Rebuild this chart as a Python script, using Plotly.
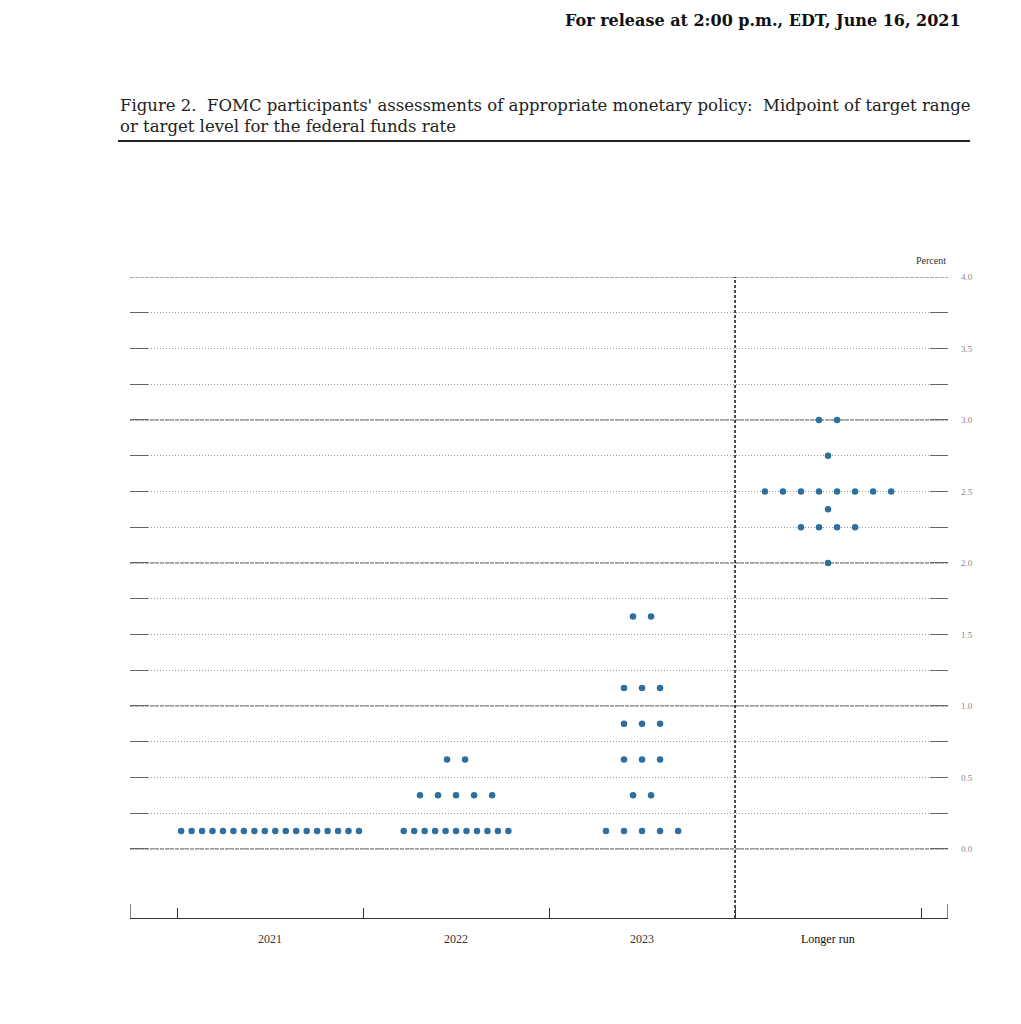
import plotly.graph_objects as go

# projections: (rate, count) per period
periods = ["2021", "2022", "2023", "Longer run"]
dots_2021 = [(0.125, 18)]
dots_2022 = [(0.125, 11), (0.375, 5), (0.625, 2)]
dots_2023 = [(0.125, 5), (0.375, 2), (0.625, 3), (0.875, 3), (1.125, 3), (1.625, 2)]
dots_lr = [(2.0, 1), (2.25, 4), (2.375, 1), (2.5, 8), (2.75, 1), (3.0, 2)]
all_dots = [dots_2021, dots_2022, dots_2023, dots_lr]
ytick_vals = [i * 0.25 for i in range(17)]

fig = go.Figure()
xs, ys = [], []
for i, rows in enumerate(all_dots):
    center = i + 0.5
    for rate, n in rows:
        step = 0.9 / 16 if n > 9 else 0.097
        for k in range(n):
            xs.append(center + (k - (n - 1) / 2) * step)
            ys.append(rate)
fig.add_trace(go.Scatter(x=xs, y=ys, mode="markers",
                         marker=dict(color="#2f6f9f", size=6.5), hoverinfo="y", showlegend=False))

# near-solid lines at whole percents
for v in range(5):
    fig.add_hline(y=v, line=dict(color="#555", width=1, dash="4px,1px"), layer="below")
fig.add_vline(x=3, line=dict(color="#111", width=1.5, dash="3px,2px"), layer="below")

serif = "DejaVu Serif"
fig.update_layout(
    width=1021, height=1024, plot_bgcolor="white", paper_bgcolor="white",
    margin=dict(l=122, r=81, t=269, b=114),
    font=dict(family=serif, color="#333"),
    xaxis=dict(range=[-0.253, 4.145], showgrid=False, zeroline=False,
               tickvals=[0, 1, 2, 3, 4], ticktext=[""] * 5, ticks="inside", ticklen=10,
               tickcolor="#333", showline=True, linecolor="#333", linewidth=1.2),
    yaxis=dict(range=[-0.483, 4.0], side="right", tickvals=ytick_vals,
               ticktext=[f"{v:.1f}" if (v * 2) % 1 == 0 else "" for v in ytick_vals],
               ticks="inside", ticklen=18, tickcolor="#666", mirror="ticks",
               showgrid=True, gridcolor="#999", griddash="1px,2px", gridwidth=1,
               zeroline=False, showline=False, ticklabelstandoff=12,
               tickfont=dict(family="Liberation Serif", size=9, color="#888")),
)
for i, p in enumerate(periods):
    fig.add_annotation(x=i + 0.5, y=-0.018, xref="x", yref="paper", text=p, showarrow=False,
                       yanchor="top",
                       font=dict(family="Liberation Serif", size=12, color="#333" if i < 3 else "#111"))
# end ticks of bottom axis
for xe in [-0.253, 4.145]:
    fig.add_shape(type="line", xref="x", yref="paper", x0=xe, x1=xe, y0=0, y1=0.022,
                  line=dict(color="#333", width=1.2))
fig.add_annotation(x=1.0, xref="paper", y=1.037, yref="paper", text="Percent", showarrow=False,
                   xanchor="right", font=dict(family="Liberation Serif", size=10, color="#333"))
fig.add_annotation(x=1.018, xref="paper", y=1.418, yref="paper", xanchor="right",
                   text="<b>For release at 2:00 p.m., EDT, June 16, 2021</b>", showarrow=False,
                   font=dict(size=16, color="#111"))
fig.add_annotation(x=-0.0147, xref="paper", y=1.285, yref="paper", xanchor="left", yanchor="top",
                   align="left", showarrow=False, font=dict(size=16.5, color="#222"),
                   text="Figure 2.  FOMC participants' assessments of appropriate monetary policy:  Midpoint of target range<br>or target level for the federal funds rate")
fig.add_shape(type="line", xref="paper", yref="paper", x0=-0.0147, x1=1.027, y0=1.212, y1=1.212,
              line=dict(color="#222", width=2))

fig.write_html("out.html")
